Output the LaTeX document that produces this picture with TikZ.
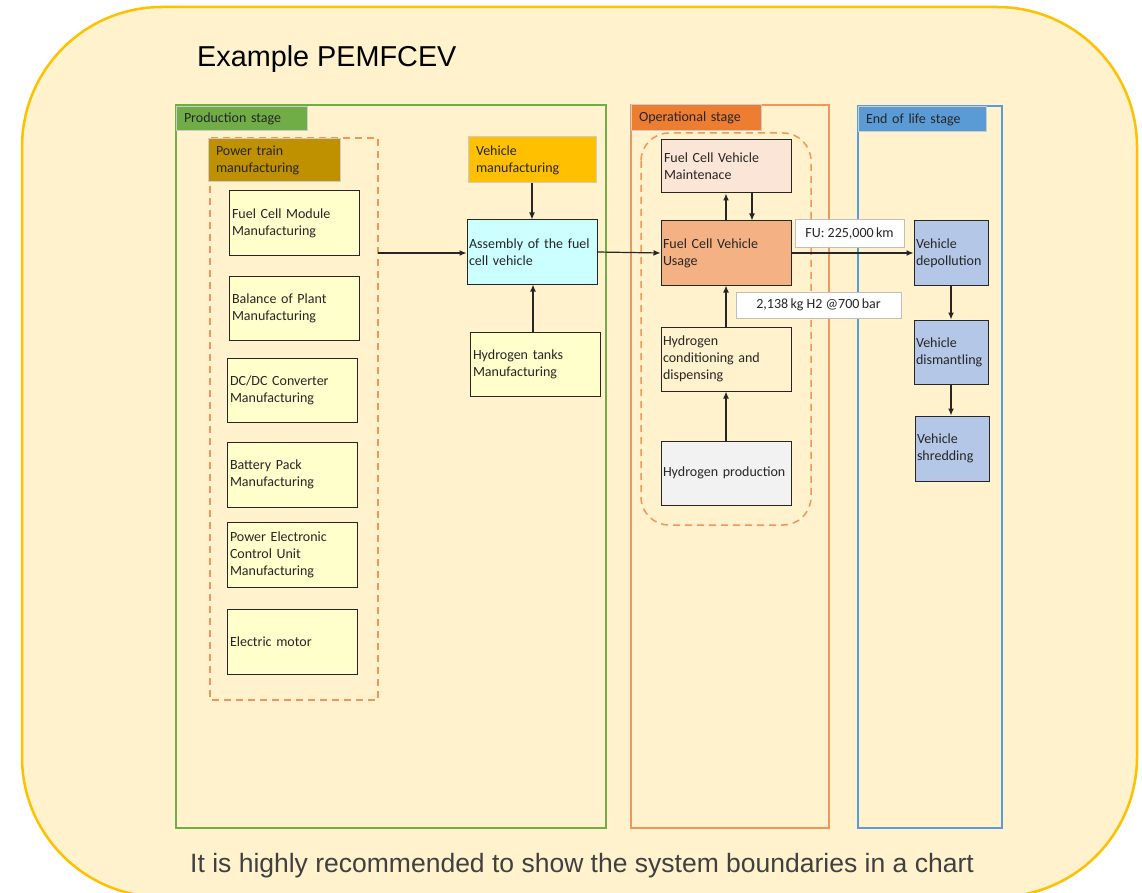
\documentclass[tikz,border=0pt]{standalone}
\usepackage{fontspec}
\setmainfont{Carlito}
\newfontfamily\arialfont{Liberation Sans}
\usetikzlibrary{arrows.meta}
\definecolor{outerfill}{HTML}{FFF2CC}
\definecolor{outerdraw}{HTML}{FFC000}
\definecolor{prodgreen}{HTML}{70AD47}
\definecolor{opline}{RGB}{241,150,90}
\definecolor{oplabel}{HTML}{ED7D31}
\definecolor{eolblue}{HTML}{5B9BD5}
\definecolor{boxyellow}{HTML}{FFFFCC}
\definecolor{ptlabel}{HTML}{BF9000}
\definecolor{vmlabel}{HTML}{FFC000}
\definecolor{assembly}{HTML}{CCFFFF}
\definecolor{maint}{HTML}{FBE5D6}
\definecolor{usage}{HTML}{F4B183}
\definecolor{hprod}{HTML}{F2F2F2}
\definecolor{eolbox}{HTML}{B4C7E7}
\definecolor{txt}{HTML}{262626}
\definecolor{graytxt}{HTML}{404040}
\tikzset{
  procbox/.style={draw=txt, line width=1pt, rectangle, inner xsep=3pt, inner ysep=0pt,
    align=left, text=txt, font=\fontsize{14}{17}\selectfont},
  stagelabel/.style={draw=black!20, line width=1pt, rectangle, inner xsep=8pt, inner ysep=0pt,
    align=left, text=txt, font=\fontsize{14}{17}\selectfont},
  infolabel/.style={draw=black!25, line width=1pt, fill=white, rectangle, inner sep=0pt,
    text=txt, font=\fontsize{14}{17}\selectfont},
  flow/.style={draw=txt, line width=1.2pt, -{Latex[length=7pt,width=6pt]}},
  frame/.style={line width=1.2pt},
  dashedbox/.style={draw=opline, line width=1.5pt, dash pattern=on 7pt off 5pt}
}
\begin{document}
\begin{tikzpicture}[x=1pt,y=-1pt]
\useasboundingbox (0,0) rectangle (1142,893);
\begin{scope}
\clip (0,0) rectangle (1142,893);
\draw[fill=outerfill, draw=outerdraw, line width=2.5pt, rounded corners=140pt] (22,7) rectangle (1137,897);
\end{scope}

\node[anchor=west, font=\arialfont\fontsize{28.8}{32}\selectfont, text=black, inner sep=0pt] (title) at (197,59) {Example PEMFCEV};
\node[font=\arialfont\fontsize{26.5}{30}\selectfont, text=graytxt, inner sep=0pt] (foot) at (582,866) {It is highly recommended to show the system boundaries in a chart};

% Production stage
\draw[frame, draw=prodgreen] (176,105) rectangle (606,828);
\node[stagelabel, fill=prodgreen, minimum width=131pt, minimum height=24pt, text width=115pt] (prodlab) at (241.5,119) {Production stage};
\draw[dashedbox] (210,138) rectangle (378,700);
\coordinate (ptE) at (378,253);
\node[stagelabel, fill=ptlabel, minimum width=132pt, minimum height=43pt, text width=116pt] (ptlab) at (274,160.5) {Power train\\manufacturing};

\node[procbox, fill=boxyellow, minimum width=130pt, minimum height=64pt, text width=124pt] (fcm) at (294,223) {Fuel Cell Module\\Manufacturing};
\node[procbox, fill=boxyellow, minimum width=130pt, minimum height=64pt, text width=124pt] (bop) at (294,308) {Balance of Plant\\Manufacturing};
\node[procbox, fill=boxyellow, minimum width=130pt, minimum height=64pt, text width=124pt] (dcdc) at (292,390) {DC/DC Converter\\Manufacturing};
\node[procbox, fill=boxyellow, minimum width=130pt, minimum height=65pt, text width=124pt] (batt) at (292,474.5) {Battery Pack\\Manufacturing};
\node[procbox, fill=boxyellow, minimum width=130pt, minimum height=65pt, text width=124pt] (pecu) at (292,554.5) {Power Electronic\\Control Unit\\Manufacturing};
\node[procbox, fill=boxyellow, minimum width=130pt, minimum height=65pt, text width=124pt] (motor) at (292,641.5) {Electric motor};

\node[stagelabel, fill=vmlabel, minimum width=128pt, minimum height=46pt, text width=112pt] (vm) at (532,160) {Vehicle\\manufacturing};
\node[procbox, fill=assembly, minimum width=130pt, minimum height=64pt, text width=126pt, inner xsep=2pt] (asm) at (532,252) {Assembly of the fuel\\cell vehicle};
\node[procbox, fill=boxyellow, minimum width=130pt, minimum height=64pt, text width=124pt] (tanks) at (535,364) {Hydrogen tanks\\Manufacturing};

% Operational stage
\draw[frame, draw=opline] (631,105) rectangle (829,828);
\node[stagelabel, fill=oplabel, minimum width=130pt, minimum height=26pt, text width=114pt] (oplab) at (696,118) {Operational stage};
\draw[dashedbox, rounded corners=28pt] (641,133) rectangle (811,525);

\node[procbox, fill=maint, minimum width=130pt, minimum height=53pt, text width=124pt] (mnt) at (726,166.5) {Fuel Cell Vehicle\\Maintenace};
\node[procbox, fill=usage, minimum width=130pt, minimum height=64pt, text width=126pt, inner xsep=2pt] (use) at (726,253) {Fuel Cell Vehicle\\Usage};
\node[procbox, fill=outerfill, minimum width=130pt, minimum height=64pt, text width=126pt, inner xsep=2pt] (cond) at (726,359) {Hydrogen\\conditioning and\\dispensing};
\node[procbox, fill=hprod, minimum width=130pt, minimum height=64pt, text width=126pt, inner xsep=2pt] (hp) at (726,473) {Hydrogen production};

% End of life stage
\draw[frame, draw=eolblue] (858,106) rectangle (1002,828);
\node[stagelabel, fill=eolblue, minimum width=128pt, minimum height=25pt, text width=112pt] (eollab) at (922,119.5) {End of life stage};
\node[procbox, fill=eolbox, minimum width=74pt, minimum height=64pt, text width=70pt, inner xsep=2pt] (dep) at (951,253) {Vehicle\\depollution};
\node[procbox, fill=eolbox, minimum width=74pt, minimum height=64pt, text width=70pt, inner xsep=2pt] (dis) at (951,352) {Vehicle\\dismantling};
\node[procbox, fill=eolbox, minimum width=74pt, minimum height=65pt, text width=70pt, inner xsep=2pt] (shr) at (952,448.5) {Vehicle\\shredding};

% info labels
\node[infolabel, minimum width=165pt, minimum height=26pt] (h2lab) at (818.5,305) {2,138\,kg H2 @700\,bar};
\node[infolabel, minimum width=109pt, minimum height=28pt] (fulab) at (849.5,234) {FU: 225,000\,km};

% connectors
\draw[flow] (ptE) -- (ptE -| asm.west);
\draw[flow] (vm.south) -- (asm.north);
\draw[flow] ([xshift=1pt]asm.south |- tanks.north) -- ([xshift=1pt]asm.south);
\draw[flow] (asm.east) -- (use.west);
\draw[flow] (use.north) -- (mnt.south);
\draw[flow] ([xshift=26pt]mnt.south) -- ([xshift=26pt]use.north);
\draw[flow] (cond.north) -- (use.south);
\draw[flow] (hp.north) -- (cond.south);
\draw[flow] (use.east) -- (dep.west);
\draw[flow] (dep.south) -- (dis.north);
\draw[flow] (dis.south) -- (dis.south |- shr.north);
\end{tikzpicture}
\end{document}
